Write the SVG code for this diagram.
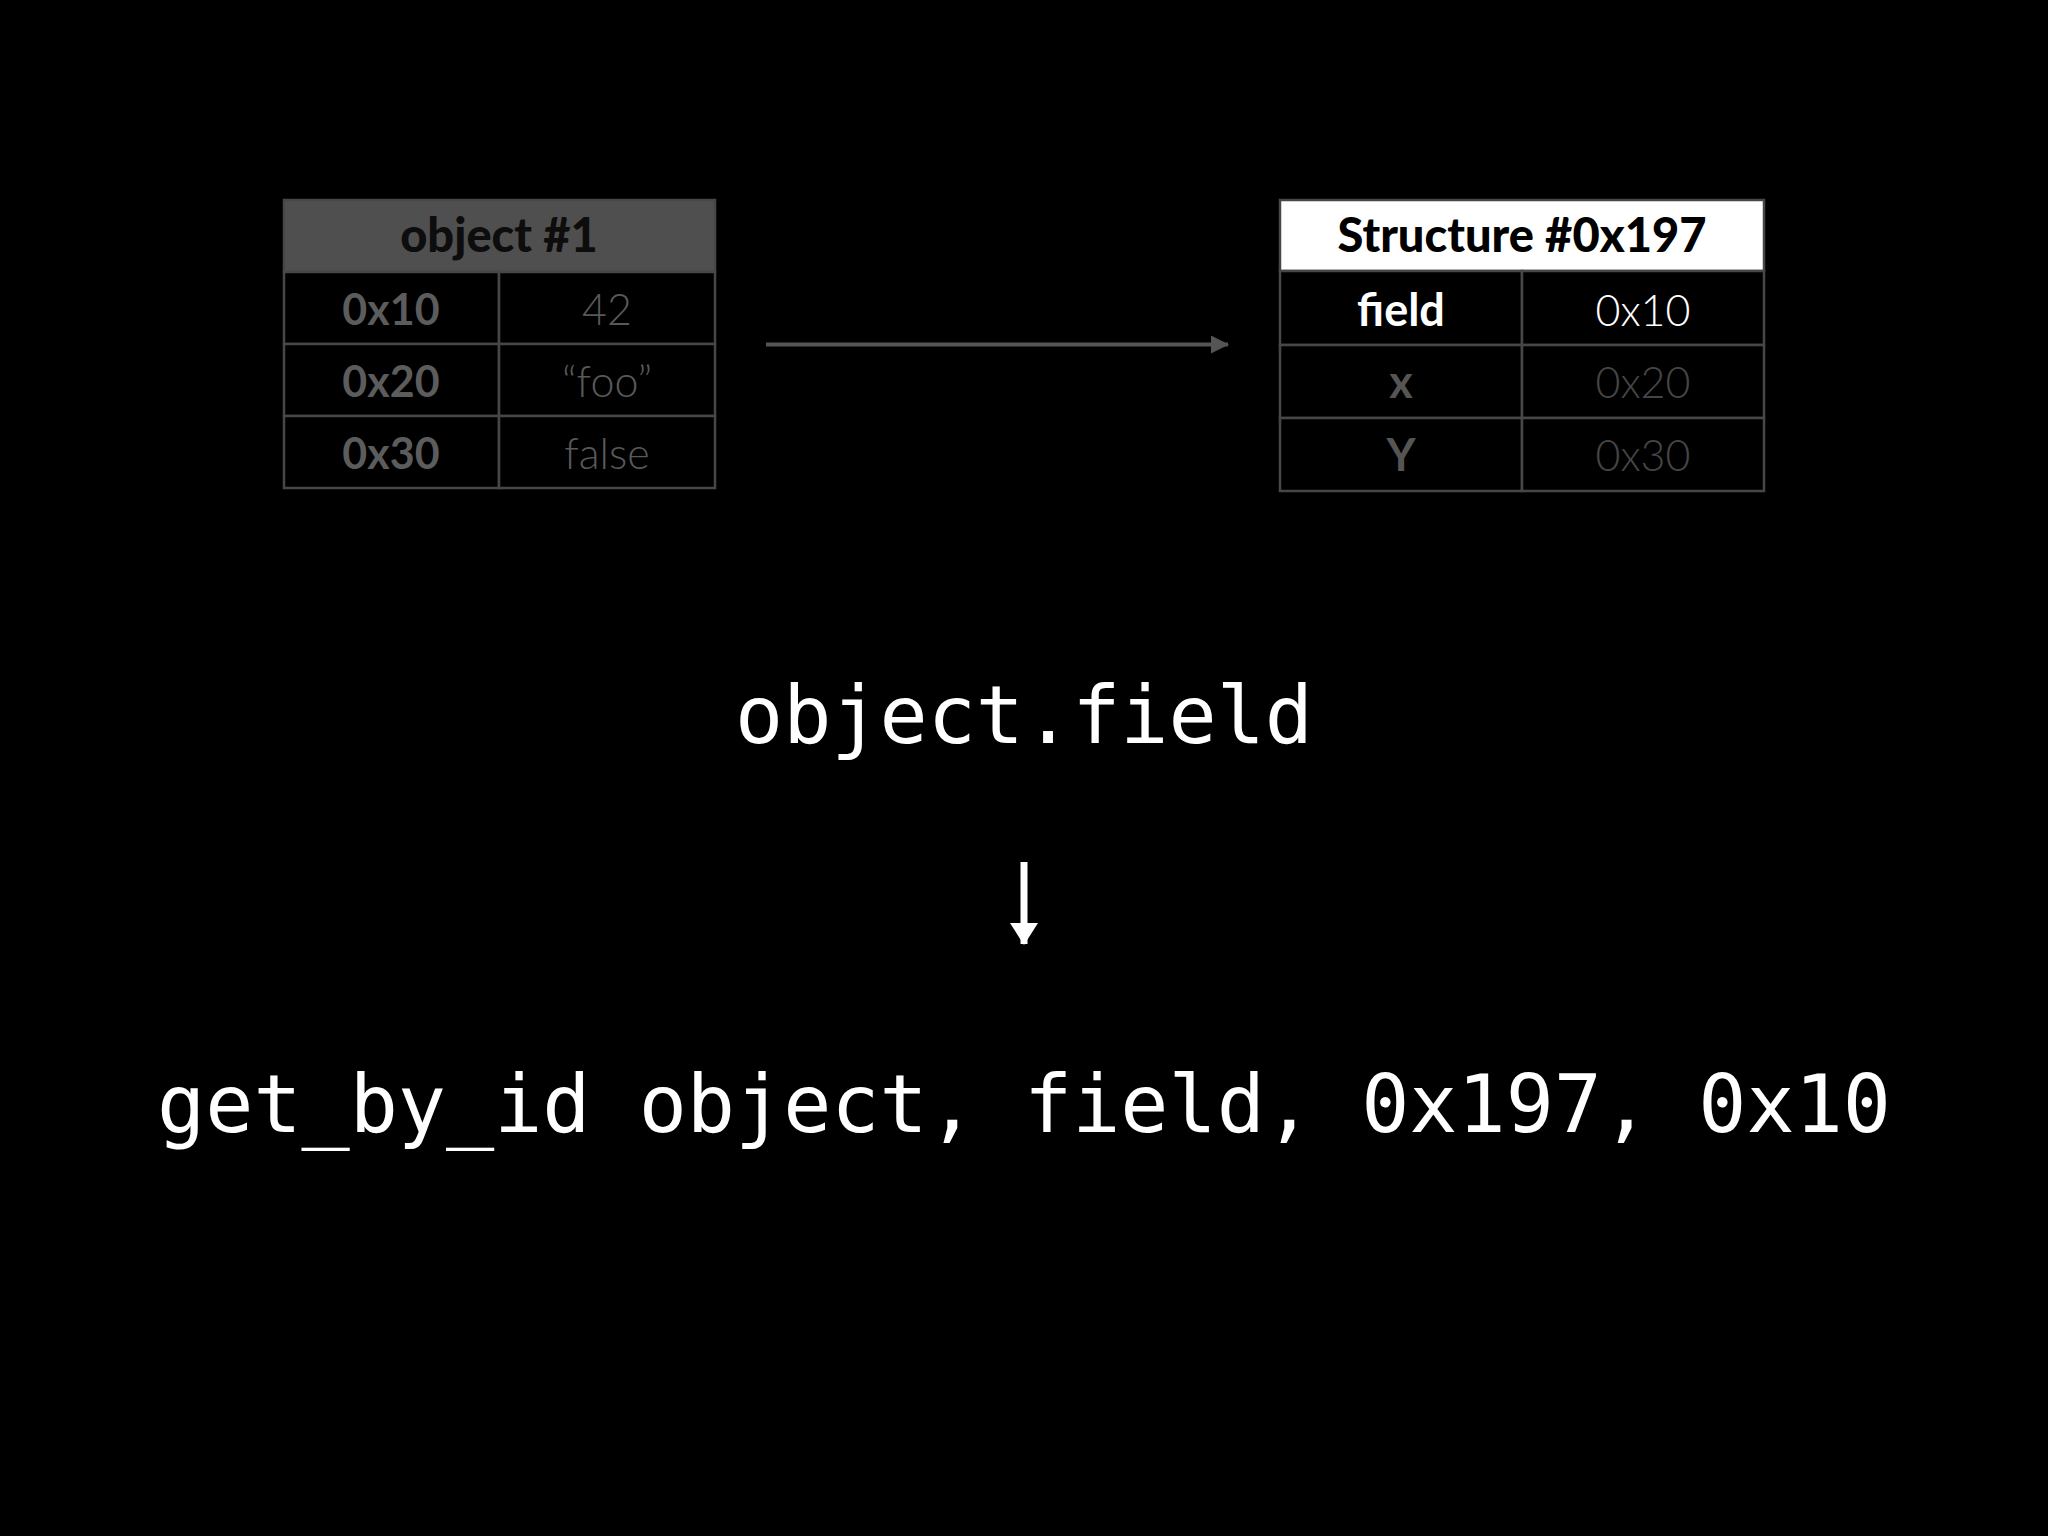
<svg xmlns="http://www.w3.org/2000/svg" width="2048" height="1536" viewBox="0 0 2048 1536">
<defs>
<style>
.cell{fill:#000;stroke:#474747;stroke-width:2.5}
.sans{font-family:Lato,"Noto Sans","Liberation Sans",sans-serif;text-anchor:middle}
.h{font-weight:900}
.b{font-weight:700}
.r{font-weight:300}
.mono{font-family:"DejaVu Sans Mono","Liberation Mono",monospace;font-size:80px;fill:#fff;text-anchor:middle}
</style>
<marker id="ah" viewBox="0 0 18 18" refX="17" refY="9" markerWidth="18" markerHeight="18" markerUnits="userSpaceOnUse" orient="auto">
<path d="M0,0 L18,9 L0,18 Z" fill="#555"/>
</marker>
<marker id="ahw" viewBox="0 0 28 22" refX="14" refY="21" markerWidth="28" markerHeight="22" markerUnits="userSpaceOnUse" orient="0">
<path d="M0,0 L28,0 L14,22 Z" fill="#fff"/>
</marker>
</defs>
<rect width="2048" height="1536" fill="#000"/>

<g id="object1">
<rect x="284" y="200" width="431" height="72" fill="#4f4f4f" stroke="#474747" stroke-width="2.5"/>
<rect class="cell" x="284" y="272" width="215" height="72"/>
<rect class="cell" x="499" y="272" width="216" height="72"/>
<rect class="cell" x="284" y="344" width="215" height="72"/>
<rect class="cell" x="499" y="344" width="216" height="72"/>
<rect class="cell" x="284" y="416" width="215" height="72"/>
<rect class="cell" x="499" y="416" width="216" height="72"/>
<text class="sans h" x="499" y="252" font-size="47" fill="#0d0d0d">object #1</text>
<text class="sans b" x="391" y="325" font-size="43" fill="#5c5c5c">0x10</text>
<text class="sans r" x="607" y="325" font-size="43" fill="#595959">42</text>
<text class="sans b" x="391" y="397" font-size="43" fill="#5c5c5c">0x20</text>
<text class="sans r" x="607" y="397" font-size="43" fill="#595959">“foo”</text>
<text class="sans b" x="391" y="469" font-size="43" fill="#5c5c5c">0x30</text>
<text class="sans r" x="607" y="469" font-size="43" fill="#595959">false</text>
</g>

<g id="structure">
<rect x="1280" y="200" width="484" height="71" fill="#fff" stroke="#474747" stroke-width="2.5"/>
<rect class="cell" x="1280" y="271" width="242" height="74"/>
<rect class="cell" x="1522" y="271" width="242" height="74"/>
<rect class="cell" x="1280" y="345" width="242" height="73"/>
<rect class="cell" x="1522" y="345" width="242" height="73"/>
<rect class="cell" x="1280" y="418" width="242" height="73"/>
<rect class="cell" x="1522" y="418" width="242" height="73"/>
<text class="sans h" x="1522" y="252" font-size="47" fill="#000">Structure #0x197</text>
<text class="sans b" x="1401" y="326" font-size="45" fill="#fff">field</text>
<text class="sans r" x="1643" y="326" font-size="43" fill="#fff">0x10</text>
<text class="sans b" x="1401" y="398" font-size="45" fill="#555">x</text>
<text class="sans r" x="1643" y="398" font-size="43" fill="#454545">0x20</text>
<text class="sans b" x="1401" y="471" font-size="45" fill="#555">Y</text>
<text class="sans r" x="1643" y="471" font-size="43" fill="#454545">0x30</text>
</g>

<g id="code">
<text class="mono" x="1024" y="743">object.field</text>
<text class="mono" x="1024" y="1132">get_by_id object, field, 0x197, 0x10</text>
</g>

<g id="connectors">
<line x1="766" y1="344.5" x2="1228" y2="344.5" stroke="#555" stroke-width="4" marker-end="url(#ah)"/>
<line x1="1024" y1="862" x2="1024" y2="944" stroke="#fff" stroke-width="7" marker-end="url(#ahw)"/>
</g>
</svg>
